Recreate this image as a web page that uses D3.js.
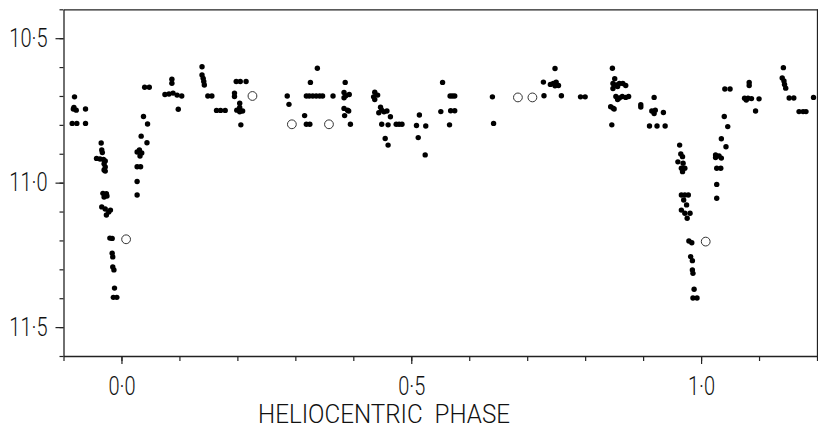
<!DOCTYPE html>
<html><head><meta charset="utf-8">
<script src="https://cdn.jsdelivr.net/npm/d3@7"></script>
<style>
html,body{margin:0;padding:0;background:#fff;}
svg{display:block;}
text{font-family:Roboto,"Liberation Sans",sans-serif;font-weight:300;fill:#111;}
</style>
</head><body><div id="chart"></div>
<script>
// Filled points: heliocentric phase and magnitude
const filledPhase = [
-0.081,-0.082,-0.078,-0.083,-0.062,-0.085,-0.077,-0.062,
-0.035,-0.034,-0.033,-0.043,-0.037,-0.031,-0.028,-0.030,-0.028,-0.030,-0.028,
-0.032,-0.026,-0.030,-0.025,-0.034,-0.028,-0.022,-0.026,-0.019,
-0.020,-0.016,-0.016,-0.015,-0.015,-0.013,-0.012,-0.014,-0.008,
0.027,0.027,0.027,0.033,0.027,0.031,0.035,0.032,0.034,0.044,0.038,0.045,0.040,0.048,
0.087,0.087,0.075,0.082,0.089,0.096,0.104,0.098,
0.139,0.139,0.141,0.142,0.143,0.149,0.156,0.164,0.171,0.179,
0.198,0.205,0.215,0.195,0.195,0.204,0.199,0.204,0.209,0.204,0.206,
0.286,0.289,0.316,0.319,0.325,0.319,0.324,0.330,0.336,0.342,0.347,0.326,0.338,0.365,
0.386,0.384,0.387,0.393,0.384,0.384,0.390,0.392,0.385,0.395,
0.437,0.442,0.437,0.435,0.447,0.449,0.444,0.453,0.458,0.464,0.449,0.460,0.474,0.479,0.484,0.455,0.460,
0.514,0.509,0.525,0.512,0.524,
0.554,0.567,0.571,0.575,0.551,0.568,0.575,0.566,
0.640,0.642,
0.728,0.729,0.748,0.740,0.745,0.750,0.754,0.748,0.759,0.792,0.800,
0.847,0.851,0.848,0.854,0.859,0.865,0.870,0.848,0.856,0.853,0.859,0.864,0.870,0.875,0.856,0.844,0.850,0.848,0.846,
0.896,0.896,0.919,0.915,0.919,0.921,0.935,0.911,0.924,0.938,
0.963,0.965,0.960,0.968,0.969,0.966,0.968,0.972,
0.966,0.972,0.978,0.970,0.975,0.966,0.972,0.981,0.976,
0.979,0.984,0.982,0.985,0.985,0.986,0.988,0.986,0.993,
1.027,1.027,1.027,1.034,1.025,1.031,1.035,1.025,1.035,1.043,1.040,1.046,1.041,1.050,
1.083,1.083,1.075,1.081,1.087,1.078,1.100,1.094,
1.142,1.140,1.143,1.144,1.146,1.152,1.160,1.169,1.176,1.181,1.194
];
const filledMag = [
10.703,10.740,10.749,10.745,10.745,10.795,10.795,10.795,
10.863,10.887,10.896,10.916,10.918,10.920,10.925,10.935,10.946,10.956,10.960,
11.037,11.038,11.050,11.046,11.084,11.091,11.102,11.112,11.095,
11.192,11.193,11.244,11.257,11.292,11.302,11.365,11.397,11.397,
11.043,10.996,10.945,10.945,10.894,10.887,10.897,10.908,10.839,10.862,10.771,10.797,10.670,10.670,
10.642,10.656,10.695,10.693,10.690,10.697,10.700,10.746,
10.599,10.627,10.639,10.650,10.662,10.700,10.700,10.750,10.750,10.750,
10.650,10.650,10.650,10.690,10.702,10.725,10.749,10.755,10.752,10.740,10.800,
10.700,10.729,10.768,10.798,10.798,10.700,10.700,10.700,10.700,10.700,10.700,10.653,10.604,10.700,
10.653,10.688,10.699,10.695,10.706,10.743,10.749,10.752,10.768,10.798,
10.687,10.697,10.712,10.703,10.739,10.749,10.758,10.755,10.752,10.772,10.798,10.800,10.798,10.798,10.798,10.847,10.870,
10.766,10.802,10.804,10.844,10.904,
10.653,10.700,10.700,10.700,10.754,10.751,10.751,10.800,
10.703,10.795,
10.652,10.699,10.605,10.660,10.657,10.652,10.664,10.665,10.699,10.703,10.703,
10.604,10.640,10.657,10.662,10.657,10.657,10.664,10.674,10.667,10.702,10.707,10.702,10.705,10.702,10.712,10.737,10.745,10.742,10.800,
10.730,10.738,10.705,10.752,10.761,10.749,10.757,10.804,10.804,10.804,
10.870,10.901,10.928,10.910,10.933,10.950,10.962,10.950,
11.043,11.043,11.043,11.060,11.077,11.095,11.106,11.106,11.123,
11.202,11.208,11.256,11.270,11.302,11.314,11.369,11.399,11.399,
11.054,11.006,10.950,10.950,10.904,10.908,10.915,10.913,10.848,10.876,10.771,10.806,10.676,10.676,
10.653,10.664,10.708,10.708,10.709,10.714,10.710,10.752,
10.602,10.638,10.648,10.660,10.673,10.707,10.707,10.754,10.754,10.754,10.705
];
// Open circles
const openPhase = [0.008, 0.226, 0.294, 0.358, 0.684, 0.709, 1.008];
const openMag   = [11.196, 10.700, 10.798, 10.798, 10.705, 10.705, 11.204];

const xMajorTicks  = [0, 0.5, 1.0];
const xMajorLabels = ["0·0", "0·5", "1·0"];
const yMajorTicks  = [10.5, 11.0, 11.5];
const yMajorLabels = ["10·5", "11·0", "11·5"];
const xTitle = "HELIOCENTRIC  PHASE";

const W = 818, H = 431;
const x = d3.scaleLinear().domain([-0.1, 1.2]).range([63.5, 817]);
const y = d3.scaleLinear().domain([10.4, 11.6]).range([9.3, 356]);

const svg = d3.select("#chart").append("svg").attr("width", W).attr("height", H);

const xMinor = x.ticks(13);
const yMinor = y.ticks(12);
const axisColor = "#222";
const SX = 0.8; // horizontal condensing of label glyphs

function style(g){
  g.selectAll("path.domain").attr("stroke", axisColor).attr("stroke-width", 1.3);
  g.selectAll(".tick line").attr("stroke", axisColor).attr("stroke-width", 1.2);
}
function condense(g){
  g.selectAll("text").each(function(){
    const t = d3.select(this);
    const tx = +t.attr("x") || 0, ty = +t.attr("y") || 0;
    t.attr("x", 0).attr("y", 0)
     .attr("transform", `translate(${tx},${ty}) scale(${SX},1)`)
     .attr("font-size", 25).attr("font-weight", 300).attr("fill", "#111")
     .attr("font-family", 'Roboto,"Liberation Sans",sans-serif');
  });
}

// bottom axis
svg.append("g").attr("transform", `translate(0,${y(11.6)})`)
  .call(d3.axisBottom(x).tickValues(xMinor).tickSize(5).tickSizeOuter(0).tickFormat(""))
  .call(style);
svg.append("g").attr("transform", `translate(0,${y(11.6)})`)
  .call(d3.axisBottom(x).tickValues(xMajorTicks).tickSize(8).tickSizeOuter(0).tickPadding(13)
    .tickFormat((d,i) => xMajorLabels[i]))
  .call(style)
  .call(g => g.select("path.domain").remove())
  .call(condense);

// left axis
svg.append("g").attr("transform", `translate(${x(-0.1)},0)`)
  .call(d3.axisLeft(y).tickValues(yMinor).tickSize(4).tickSizeOuter(0).tickFormat(""))
  .call(style);
svg.append("g").attr("transform", `translate(${x(-0.1)},0)`)
  .call(d3.axisLeft(y).tickValues(yMajorTicks).tickSize(8).tickSizeOuter(0).tickPadding(8)
    .tickFormat((d,i) => yMajorLabels[i]))
  .call(style)
  .call(g => g.select("path.domain").remove())
  .call(condense);

// right axis
svg.append("g").attr("transform", `translate(${x(1.2)},0)`)
  .call(d3.axisRight(y).tickValues(yMinor).tickSize(3).tickSizeOuter(0).tickFormat(""))
  .call(style);

// top axis
svg.append("g").attr("transform", `translate(0,${y(10.4)})`)
  .call(d3.axisTop(x).tickValues([]).tickSizeOuter(0))
  .call(style);

// x title
svg.append("text").attr("x", 384).attr("y", 423).attr("text-anchor", "middle")
  .style("white-space", "pre")
  .attr("font-size", 26).attr("font-weight", 300)
  .attr("textLength", 252).attr("lengthAdjust", "spacingAndGlyphs")
  .text(xTitle);

// filled points
const filled = filledPhase.map((p, i) => ({p, m: filledMag[i]}));
svg.append("g").selectAll("circle").data(filled).join("circle")
  .attr("cx", d => x(d.p)).attr("cy", d => y(d.m)).attr("r", 2.7).attr("fill", "#000");

// open points
const opens = openPhase.map((p, i) => ({p, m: openMag[i]}));
svg.append("g").selectAll("circle").data(opens).join("circle")
  .attr("cx", d => x(d.p)).attr("cy", d => y(d.m)).attr("r", 4.4)
  .attr("fill", "#fff").attr("stroke", "#333").attr("stroke-width", 1);
</script>
</body></html>
